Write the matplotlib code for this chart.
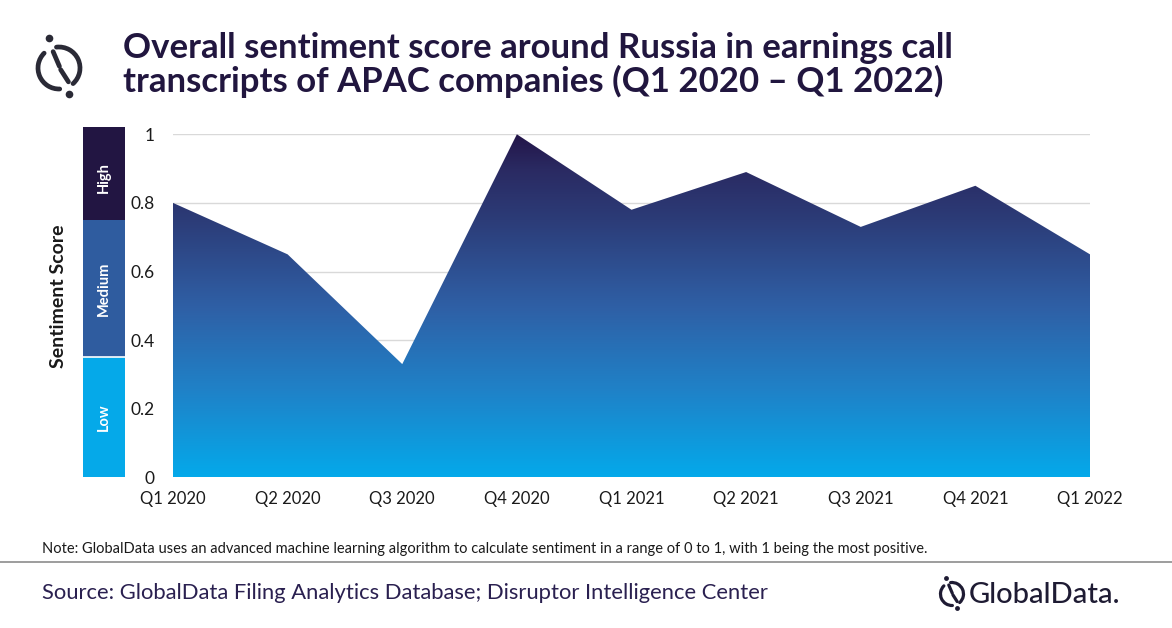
import numpy as np
import matplotlib
matplotlib.use("Agg")
import matplotlib.pyplot as plt
from matplotlib.patches import Arc, Rectangle
from matplotlib.lines import Line2D
from matplotlib.colors import LinearSegmentedColormap

# ---- data ----
quarters = ["Q1 2020", "Q2 2020", "Q3 2020", "Q4 2020", "Q1 2021",
            "Q2 2021", "Q3 2021", "Q4 2021", "Q1 2022"]
scores = [0.80, 0.65, 0.33, 1.00, 0.78, 0.89, 0.73, 0.85, 0.65]
yticks = [0, 0.2, 0.4, 0.6, 0.8, 1.0]
ytick_labels = ["0", "0.2", "0.4", "0.6", "0.8", "1"]
band_names = ["Low", "Medium", "High"]
band_edges = [0.0, 0.35, 0.75, 1.02]
band_colors = ["#05A9E9", "#2F5C9F", "#221542"]

title = "Overall sentiment score around Russia in earnings call\ntranscripts of APAC companies (Q1 2020 \u2013 Q1 2022)"
note = "Note: GlobalData uses an advanced machine learning algorithm to calculate sentiment in a range of 0 to 1, with 1 being the most positive."
source = "Source: GlobalData Filing Analytics Database; Disruptor Intelligence Center"

FONT = ["Lato", "DejaVu Sans"]
plt.rcParams["font.family"] = FONT
TITLE_C = "#21163F"
TEXT_C = "#1A1A1A"

W, H = 1172, 628
fig = plt.figure(figsize=(W / 100, H / 100), dpi=100)
fig.patch.set_facecolor("white")

def fx(px):
    return px / W

def fy(py):
    return 1 - py / H

# band bar on the left
ax_l, ax_r, ax_t, ax_b = 173, 1090, 134.3, 477.3
bx_l, bx_r = 82.7, 125
bax = fig.add_axes([fx(bx_l), fy(ax_b), fx(bx_r - bx_l), (ax_b - ax_t) / H])
bax.set_xlim(0, 1)
bax.set_ylim(0, 1)
bax.axis("off")
for i, name in enumerate(band_names):
    y0, y1 = band_edges[i], band_edges[i + 1]
    bax.add_patch(Rectangle((0, y0), 1, y1 - y0, facecolor=band_colors[i],
                            edgecolor="none", clip_on=False))
    bax.text(0.5, (y0 + min(y1, 1.0)) / 2, name, rotation=90, ha="center",
             va="center", color="white", fontsize=10.5, fontweight="bold")
bax.plot([0, 1], [band_edges[1], band_edges[1]], color="white", lw=1.2, clip_on=False)

# main axes
ax = fig.add_axes([fx(ax_l), fy(ax_b), fx(ax_r - ax_l), (ax_b - ax_t) / H])
x = np.arange(len(quarters))
ax.set_xlim(0, len(quarters) - 1)
ax.set_ylim(0, 1)
ax.patch.set_alpha(0)
for s in ax.spines.values():
    s.set_visible(False)
ax.set_yticks(yticks)
ax.set_yticklabels(ytick_labels, fontsize=12.5, color=TEXT_C)
ax.set_xticks(x)
ax.set_xticklabels(quarters, fontsize=12, color=TEXT_C)
ax.tick_params(axis="y", length=0, pad=13)
ax.tick_params(axis="x", length=0, pad=10)
ax.grid(axis="y", color="#D9D9D9", linewidth=1)
ax.set_axisbelow(True)

# gradient area
poly = ax.fill_between(x, 0, scores, color="none", linewidth=0)
cmap = LinearSegmentedColormap.from_list(
    "g", [(0.0, "#04A9EA"), (0.25, "#1F82C8"), (0.5, "#2F5FA5"),
          (0.75, "#2C3C78"), (0.9, "#2A2A62"), (1.0, "#231548")])
grad = np.linspace(0, 1, 256).reshape(-1, 1)
im = ax.imshow(grad, cmap=cmap, origin="lower", aspect="auto",
               extent=[0, len(quarters) - 1, 0, 1], zorder=2)
path = poly.get_paths()[0]
im.set_clip_path(path, transform=ax.transData)

fig.text(fx(58), fy(296), "Sentiment Score", rotation=90, ha="center",
         va="center", fontsize=14, fontweight="bold", color=TEXT_C)

# title
fig.text(fx(123), fy(65), title, ha="left", va="center", fontsize=25,
         fontweight="bold", color=TITLE_C, linespacing=1.02)


def draw_logo(px_cx, px_cy, R, lw, color, dot):
    """Draw the GlobalData mark in a square axes; y_local = -pixel y."""
    pad = R * 1.7
    a = fig.add_axes([fx(px_cx - pad), fy(px_cy + pad), fx(2 * pad), 2 * pad / H])
    a.set_xlim(px_cx - pad, px_cx + pad)
    a.set_ylim(-px_cy - pad, -px_cy + pad)
    a.axis("off")
    c = (px_cx, -px_cy)
    a.add_patch(Arc(c, 2 * R, 2 * R, theta1=135, theta2=272, lw=lw, color=color,
                    capstyle="round"))
    a.add_patch(Arc(c, 2 * R, 2 * R, theta1=-48, theta2=97, lw=lw, color=color,
                    capstyle="round"))
    def P(rx, ry):
        return px_cx + rx * R, -px_cy - ry * R
    p1, p2 = P(-0.28, -0.78), P(0.02, -0.08)
    p3, p4 = P(0.08, 0.08), P(0.45, 0.66)
    a.plot([p1[0], p2[0]], [p1[1], p2[1]], color=color, lw=lw, solid_capstyle="round")
    a.plot([p3[0], p4[0]], [p3[1], p4[1]], color=color, lw=lw, solid_capstyle="round")
    d1, d2 = P(-0.5, -1.42), P(0.47, 1.22)
    a.plot([d1[0]], [d1[1]], "o", color=color, ms=dot, mew=0)
    a.plot([d2[0]], [d2[1]], "o", color=color, ms=dot, mew=0)


draw_logo(59, 68, 21, 3.4, "#2A2A36", 5.5)

# note, rule, source
fig.text(fx(42), fy(549), note, ha="left", va="center", fontsize=10.5, color=TEXT_C)
fig.add_artist(Line2D([0, 1], [fy(562), fy(562)], color="#8C8C8C", lw=1.2))
fig.text(fx(42), fy(593), source, ha="left", va="center", fontsize=15.8, color="#2A2050")

# GlobalData logo bottom-right
gc = "#1E1B33"
draw_logo(952, 594, 11.5, 2.3, gc, 3.5)
fig.text(fx(969), fy(595), "GlobalData.", ha="left", va="center", fontsize=21,
         color=gc, fontweight="medium")

fig.savefig("out.png", dpi=100, facecolor="white")
